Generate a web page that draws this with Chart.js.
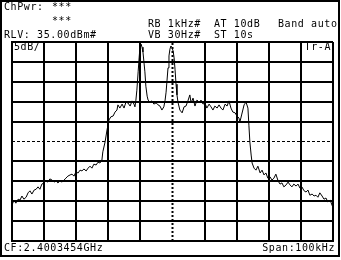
<!DOCTYPE html>
<html>
<head>
<meta charset="utf-8">
<script src="https://cdn.jsdelivr.net/npm/chart.js@4/dist/chart.umd.min.js"></script>
<style>
  body { margin: 0; background: #fff; }
  #pantalla { position: relative; width: 341px; height: 260px; overflow: hidden; }
  #marco { position: absolute; left: 0; top: 0; width: 340px; height: 257px; box-sizing: border-box; border: 2px solid #000; }
  .txt { position: absolute; font-family: "DejaVu Sans Mono", monospace; font-size: 10px; line-height: 10px; letter-spacing: 0.6px; white-space: pre; color: #000; }
  canvas { position: absolute; left: 0; top: 0; }
</style>
</head>
<body>
<div id="pantalla">
  <canvas id="espectro" width="341" height="260"></canvas>
  <div id="marco"></div>
  <span class="txt" style="left:4px;top:2px">ChPwr:</span>
  <span class="txt" style="left:52px;top:2px">***</span>
  <span class="txt" style="left:52px;top:16px">***</span>
  <span class="txt" style="left:148px;top:19px">RB 1kHz#</span>
  <span class="txt" style="left:214px;top:19px">AT 10dB</span>
  <span class="txt" style="left:278px;top:19px">Band auto</span>
  <span class="txt" style="left:4px;top:30px">RLV: 35.00dBm#</span>
  <span class="txt" style="left:148px;top:30px">VB 30Hz#</span>
  <span class="txt" style="left:214px;top:30px">ST 10s</span>
  <span class="txt" style="left:14px;top:42px">5dB/</span>
  <span class="txt" style="right:10px;top:42px">Tr-A</span>
  <span class="txt" style="left:4px;top:243px">CF:2.4003454GHz</span>
  <span class="txt" style="right:6px;top:243px">Span:100kHz</span>
</div>
<script>
// desplazamiento de frecuencia respecto a CF (kHz)
const frecuencias = [
  -50.0, -49.4, -48.8, -48.1, -47.5, -46.9, -46.3, -45.6, -45.0, -44.4,
  -43.8, -43.1, -42.5, -41.9, -41.3, -40.7, -40.0, -39.4, -38.8, -38.2,
  -37.5, -36.9, -36.3, -35.7, -35.0, -34.4, -33.8, -33.2, -32.6, -31.9,
  -31.3, -30.7, -30.1, -29.4, -28.8, -28.2, -27.6, -26.9, -26.3, -25.7,
  -25.1, -24.5, -23.8, -23.2, -22.6, -22.0, -21.7, -21.0, -20.4, -19.8,
  -19.2, -18.5, -17.9, -17.3, -17.0, -16.4, -15.7, -15.1, -14.5, -13.9,
  -13.2, -12.6, -12.0, -11.7, -11.4, -11.1, -10.7, -10.4, -10.1, -9.8,
  -9.5, -9.2, -8.9, -8.6, -8.3, -7.9, -7.6, -7.0, -6.4, -5.8,
  -5.1, -4.5, -3.9, -3.3, -2.7, -2.3, -2.0, -1.7, -1.4, -1.1,
  -0.8, -0.5, -0.2, 0.2, 0.5, 0.8, 1.1, 1.4, 1.7, 2.3,
  3.0, 3.6, 4.2, 4.8, 5.4, 5.8, 6.4, 7.0, 7.6, 8.3,
  8.9, 9.5, 10.1, 10.7, 11.4, 12.0, 12.6, 13.2, 13.9, 14.5,
  15.1, 15.7, 16.4, 17.0, 17.6, 18.2, 18.8, 19.5, 20.1, 20.7,
  21.0, 21.6, 22.3, 22.9, 23.5, 23.8, 24.1, 24.5, 24.8, 25.4,
  26.0, 26.6, 27.3, 27.9, 28.5, 29.1, 29.7, 30.4, 31.0, 31.6,
  32.2, 32.9, 33.5, 34.1, 34.7, 35.4, 36.0, 36.6, 37.2, 37.8,
  38.5, 39.1, 39.7, 40.3, 41.0, 41.6, 42.2, 42.8, 43.5, 44.1,
  44.7, 45.3, 45.9, 46.6, 47.2, 47.8, 48.4, 49.1, 49.7, 50.0
];
// nivel de la traza A (dBm)
const niveles = [
  -6.0, -4.7, -5.5, -4.5, -4.7, -3.7, -4.5, -4.0, -2.9, -2.4,
  -3.2, -2.2, -2.0, -1.4, -2.0, -0.7, -0.4, 0.1, -0.2, 0.6,
  0.3, -0.2, 0.1, -0.4, 0.1, -0.2, 0.3, 0.8, 1.3, 1.6,
  1.8, 1.3, 2.3, 2.1, 2.8, 2.6, 3.1, 2.6, 3.3, 3.8,
  3.3, 4.3, 4.1, 4.8, 4.6, 5.3, 7.4, 9.9, 12.9, 15.4,
  16.2, 16.4, 17.4, 17.9, 19.2, 18.4, 19.4, 18.4, 19.9, 19.7,
  18.9, 20.2, 19.4, 18.7, 20.4, 22.9, 27.5, 31.0, 34.0, 34.5,
  33.7, 32.5, 30.0, 27.5, 23.9, 21.4, 20.4, 19.9, 20.2, 19.4,
  19.7, 19.2, 18.9, 17.9, 18.7, 20.4, 22.4, 25.4, 28.5, 31.5,
  33.2, 34.0, 33.7, 32.7, 31.0, 28.0, 24.4, 21.7, 19.9, 17.9,
  17.2, 18.7, 18.9, 20.2, 21.7, 19.7, 20.9, 18.9, 20.4, 19.9,
  20.4, 19.4, 19.7, 18.4, 19.4, 18.7, 17.9, 18.9, 18.4, 19.2,
  18.4, 17.9, 19.4, 18.9, 20.2, 18.4, 17.4, 17.2, 16.4, 15.9,
  14.9, 16.9, 19.2, 19.9, 18.4, 14.1, 9.9, 6.6, 4.6, 3.3,
  2.8, 3.8, 2.1, 2.8, 1.6, 2.1, 0.8, 1.1, 0.3, 0.8,
  1.8, 0.1, -0.7, -0.4, -1.4, -0.9, -0.2, -0.9, -1.4, -0.7,
  -1.2, -0.7, -1.7, -1.4, -2.4, -2.7, -2.2, -3.5, -3.2, -3.7,
  -3.5, -4.0, -2.9, -3.7, -4.5, -4.2, -5.2, -4.7, -6.0, -6.7
];
// escala: RLV 35 dBm arriba, 5 dB/div, span 100 kHz
const nivelRef = 35;
const dbPorDiv = 5;
const nivelMin = nivelRef - 10 * dbPorDiv;
const spanMedio = 50;
const lineaDisplay = 10; // linea discontinua horizontal (dBm)

const puntos = frecuencias.map((f, i) => ({ x: f, y: niveles[i] }));

new Chart(document.getElementById('espectro'), {
  type: 'scatter',
  data: {
    datasets: [
      {
        data: [{ x: 0, y: nivelMin }, { x: 0, y: nivelRef }],
        showLine: true, borderColor: '#000', borderWidth: 2, borderDash: [2, 2],
        pointRadius: 0, order: 3
      },
      {
        data: [{ x: -spanMedio, y: lineaDisplay }, { x: spanMedio, y: lineaDisplay }],
        showLine: true, borderColor: '#000', borderWidth: 1, borderDash: [3, 2],
        pointRadius: 0, order: 2
      },
      {
        data: puntos,
        showLine: true, borderColor: '#000', borderWidth: 1,
        pointRadius: 0, tension: 0, order: 1
      }
    ]
  },
  options: {
    responsive: false,
    animation: false,
    layout: { padding: { left: 12, right: 8, top: 42, bottom: 19 } },
    plugins: { legend: { display: false }, tooltip: { enabled: false } },
    scales: {
      x: {
        type: 'linear', min: -spanMedio, max: spanMedio,
        ticks: { display: false, stepSize: 10 },
        grid: {
          drawTicks: false, lineWidth: 2,
          color: ctx => (ctx.tick && ctx.tick.value === 0) ? 'rgba(0,0,0,0)' : '#000'
        },
        border: { display: true, color: '#000', width: 2 }
      },
      y: {
        type: 'linear', min: nivelMin, max: nivelRef,
        ticks: { display: false, stepSize: dbPorDiv },
        grid: {
          drawTicks: false, lineWidth: 2,
          color: ctx => (ctx.tick && ctx.tick.value === lineaDisplay) ? 'rgba(0,0,0,0)' : '#000'
        },
        border: { display: true, color: '#000', width: 2 }
      }
    }
  }
});
</script>
</body>
</html>
